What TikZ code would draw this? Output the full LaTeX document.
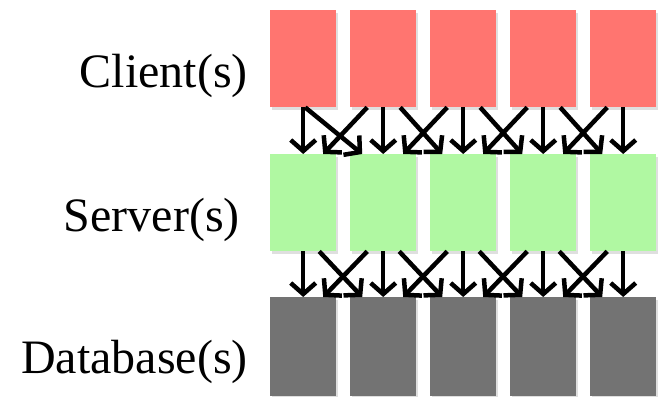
\documentclass[tikz,border=0pt]{standalone}
\usepackage{fontspec}
\setmainfont{Liberation Serif}
\usetikzlibrary{arrows.meta,shadows}
\definecolor{clientred}{RGB}{255,117,112}
\definecolor{servergreen}{RGB}{176,248,162}
\definecolor{dbgray}{RGB}{115,115,115}
\begin{document}
\begin{tikzpicture}[x=1pt,y=-1pt,
	tier/.style={rectangle,inner sep=0pt,minimum width=66pt,minimum height=97pt,anchor=north west,
		drop shadow={shadow xshift=2pt,shadow yshift=-2.5pt,opacity=0.25}},
	flow/.style={line width=4.5pt,-{Straight Barb[length=11pt,width=25pt,line width=4.5pt]}},
	tierlabel/.style={anchor=base east,inner sep=0pt,font=\fontsize{48}{48}\selectfont}]
	\useasboundingbox (0,0) rectangle (658,396);
	% the three tiers
	\foreach \i in {1,...,5} {
		\node[tier,fill=clientred] (cl\i) at ({270+80*(\i-1)},10) {};
		\node[tier,fill=servergreen] (sv\i) at ({270+80*(\i-1)},154) {};
		\node[tier,fill=dbgray,minimum height=99pt] (db\i) at ({270+80*(\i-1)},297) {};
	}
	\node[tierlabel] (lblcl) at (248,88) {Client(s)};
	\node[tierlabel] (lblsv) at (240,231) {Server(s)};
	\node[tierlabel] (lbldb) at (248,373) {Database(s)};
	% straight down
	\foreach \i in {1,...,5} {
		\draw[flow] (cl\i.south) -- (sv\i.north);
		\draw[flow] (sv\i.south) -- (db\i.north);
	}
	% crossing to the neighbours
	\foreach \i/\j/\s in {1/2/2,2/3/17,3/4/17,4/5/17} {
		\draw[flow] ([xshift=\s pt]cl\i.south) -- ([xshift=-21pt]sv\j.north);
		\draw[flow] ([xshift=-16pt]cl\j.south) -- ([xshift=20pt]sv\i.north);
		\draw[flow] ([xshift=16pt]sv\i.south) -- ([xshift=-21pt]db\j.north);
		\draw[flow] ([xshift=-16pt]sv\j.south) -- ([xshift=20pt]db\i.north);
	}
\end{tikzpicture}
\end{document}
